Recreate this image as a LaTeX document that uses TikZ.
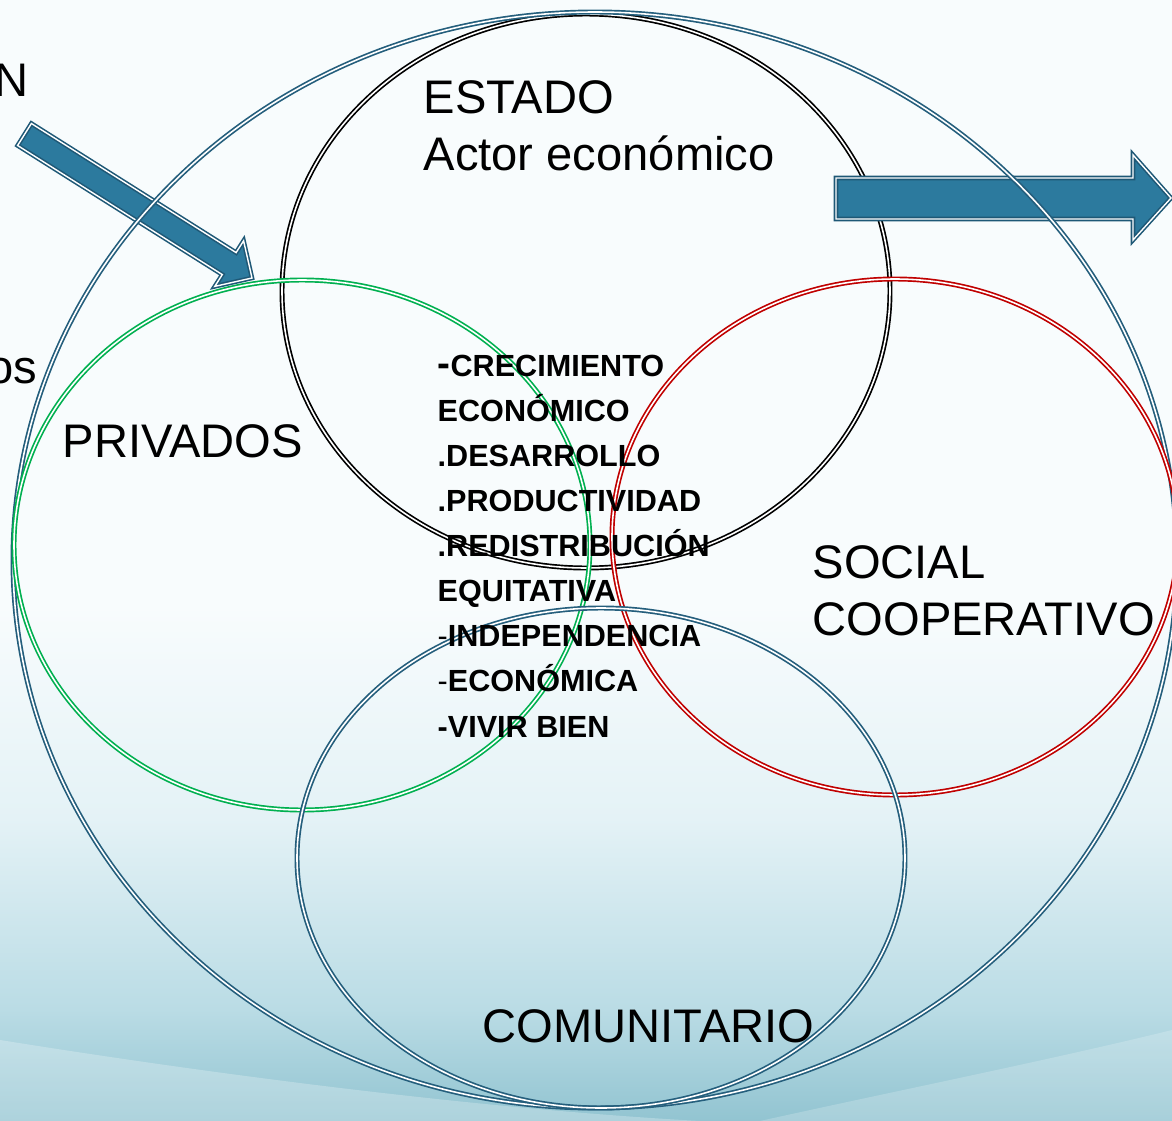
\documentclass[tikz,border=0pt]{standalone}
\usepackage{fontspec}
\setmainfont{Liberation Sans}
\usepackage{tikz}
\usepackage{xcolor}
\definecolor{ringblue}{RGB}{36,94,124}
\definecolor{ringgreen}{RGB}{0,176,80}
\definecolor{ringred}{RGB}{192,0,0}
\definecolor{arrowfill}{RGB}{44,122,158}
\definecolor{arrowedge}{RGB}{30,88,118}
\definecolor{bgbot}{RGB}{146,196,209}
\definecolor{bglow}{RGB}{186,220,229}
\definecolor{bgmid}{RGB}{228,242,246}
\definecolor{bgtop}{RGB}{248,252,253}
\pgfdeclareverticalshading{slidebg}{100bp}{color(0bp)=(bgbot); color(25bp)=(bgbot); color(30bp)=(bglow); color(38.5bp)=(bgmid); color(48bp)=(bgtop); color(100bp)=(bgtop)}

\begin{document}
\begin{tikzpicture}[x=0.01cm,y=-0.01cm]
\tikzstyle{every node}+=[inner sep=0pt]
\tikzstyle{ringline}=[double=white,line width=0.48pt,double distance=0.45pt]
\tikzstyle{blockarrow}=[fill=arrowfill,draw=arrowedge,double=white,line width=0.45pt,double distance=0.4pt,line join=miter]
\tikzstyle{sectorname}=[font=\fontsize{13.4}{16.2}\selectfont,anchor=base west,align=left]
\tikzstyle{goalslist}=[font=\fontsize{8.7}{12.8}\selectfont\bfseries,anchor=base west,align=left]
\useasboundingbox (0,0) rectangle (1172,1121);
\clip (0,0) rectangle (1172,1121);
\shade [shading=slidebg] (0,0) rectangle (1172,1121);
\fill [white,opacity=0.25] (0,1040) .. controls (250,1080) and (500,1110) .. (700,1121) -- (0,1121) -- cycle;
\fill [white,opacity=0.2] (760,1121) .. controls (900,1090) and (1050,1060) .. (1172,1030) -- (1172,1121) -- cycle;
\draw [ringline,black] (586,291) ellipse [x radius=304, y radius=277];
\draw [blockarrow] (31.4,123.5) -- (236.1,252.6) -- (243.6,240.8) -- (252,278) -- (214.8,286.4) -- (222.3,274.6) -- (17.6,145.5) -- cycle;
\draw [blockarrow] (836,178) -- (1133,178) -- (1133,155) -- (1171,198) -- (1133,240) -- (1133,219) -- (836,219) -- cycle;
\draw [ringline,ringblue] (595,560) ellipse [x radius=582, y radius=548];
\draw [ringline,ringgreen] (302,545) ellipse [x radius=288, y radius=265];
\draw [ringline,ringred] (895,537) ellipse [x radius=283, y radius=258];
\draw [ringline,ringblue] (601,858) ellipse [x radius=304, y radius=250];
\node [sectorname,anchor=base east] (titulo) at (29,97) {N};
\node [sectorname,anchor=base east] (margen) at (38,383) {os};
\node [sectorname] (estado) at (423,170) {ESTADO\\Actor económico};
\node [sectorname] (privados) at (62,457) {PRIVADOS};
\node [sectorname] (social) at (812,635) {SOCIAL\\COOPERATIVO};
\node [sectorname] (comunitario) at (482,1042) {COMUNITARIO};
\node [goalslist] (metas) at (437,737) {{\fontsize{11}{12}\selectfont -}CRECIMIENTO\\ECONÓMICO\\.DESARROLLO\\.PRODUCTIVIDAD\\.REDISTRIBUCIÓN\\EQUITATIVA\\{\mdseries -}INDEPENDENCIA\\{\mdseries -}ECONÓMICA\\-VIVIR BIEN};
\end{tikzpicture}
\end{document}
